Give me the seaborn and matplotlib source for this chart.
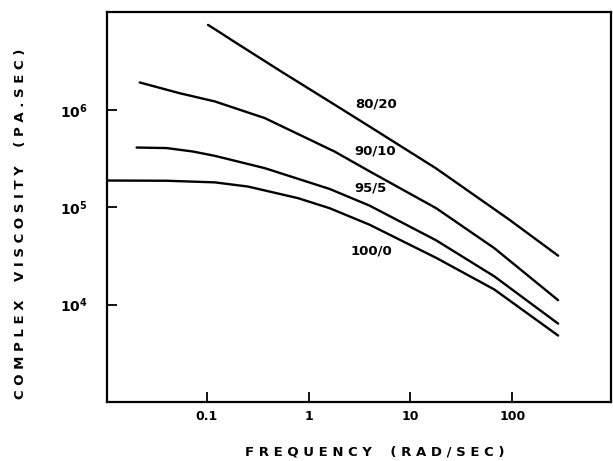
import numpy as np
import pandas as pd
import seaborn as sns
import matplotlib.pyplot as plt

# frequency (rad/sec) and complex viscosity (Pa.sec)
freq_8020 = [0.103, 0.134, 0.175, 0.540, 1.80, 3.96, 17.9, 93.5, 282]
visc_8020 = [7.45e6, 6.26e6, 5.22e6, 2.47e6, 1.13e6, 6.75e5, 2.50e5, 7.45e4, 3.18e4]

freq_9010 = [0.0220, 0.0544, 0.120, 0.371, 1.80, 3.96, 17.9, 66.6, 282]
visc_9010 = [1.91e6, 1.48e6, 1.22e6, 8.23e5, 3.73e5, 2.34e5, 9.77e4, 3.80e4, 1.11e4]

freq_955 = [0.0205, 0.0403, 0.0734, 0.120, 0.371, 1.61, 3.96, 17.9, 66.6, 282]
visc_955 = [4.10e5, 4.05e5, 3.73e5, 3.37e5, 2.52e5, 1.54e5, 1.04e5, 4.57e4, 1.95e4, 6.38e3]

freq_1000 = [0.01055, 0.0403, 0.120, 0.254, 0.785, 1.61, 3.96, 17.9, 66.6, 282]
visc_1000 = [1.88e5, 1.87e5, 1.80e5, 1.63e5, 1.24e5, 9.77e4, 6.62e4, 3.02e4, 1.43e4, 4.81e3]

blends = ['80/20', '90/10', '95/5', '100/0']
label_x = [4.64, 4.55, 4.06, 4.15]
label_y = [1.15e6, 3.75e5, 1.58e5, 3.58e4]

frames = []
for name, f, v in zip(blends,
                      [freq_8020, freq_9010, freq_955, freq_1000],
                      [visc_8020, visc_9010, visc_955, visc_1000]):
    frames.append(pd.DataFrame({'freq': f, 'visc': v, 'blend': name}))
df = pd.concat(frames, ignore_index=True)

sns.set_style('ticks')
plt.rcParams['text.color'] = 'black'
plt.rcParams['axes.labelcolor'] = 'black'
plt.rcParams['xtick.color'] = 'black'
plt.rcParams['ytick.color'] = 'black'

fig = plt.figure(figsize=(6.13, 4.61), dpi=100)
ax = fig.add_axes([0.1746, 0.128, 0.822, 0.845])

sns.lineplot(data=df, x='freq', y='visc', hue='blend', sort=False,
             palette=['black'] * 4, linewidth=1.7, legend=False, ax=ax)

ax.set_xscale('log')
ax.set_yscale('log')
ax.set_xlim(0.0105, 930)
ax.set_ylim(1e3, 1e7)

for name, lx, ly in zip(blends, label_x, label_y):
    ax.text(lx, ly, name, ha='center', va='center', fontsize=9.5,
            fontweight='bold', family='Liberation Sans Narrow', color='black')

ax.set_xticks([0.1, 1, 10, 100])
ax.set_xticklabels(['0.1', '1', '10', '100'], fontweight='bold', fontsize=9)
ax.set_yticks([1e4, 1e5, 1e6])
ax.set_yticklabels([r'$\mathbf{10^4}$', r'$\mathbf{10^5}$', r'$\mathbf{10^6}$'], fontsize=10)
ax.minorticks_off()
ax.tick_params(direction='in', length=7, width=1.3, colors='black')
ax.tick_params(axis='y', pad=14)
ax.tick_params(axis='x', pad=6)

for s in ax.spines.values():
    s.set_linewidth(1.6)
    s.set_color('black')

ax.set_xlabel('F R E Q U E N C Y    ( R A D / S E C )', fontweight='bold', fontsize=9.5)
ax.xaxis.set_label_coords(0.532, -0.128)
ax.xaxis.label.set_va('center')
ax.set_ylabel('C O M P L E X    V I S C O S I T Y    ( P A . S E C )', fontweight='bold',
              fontsize=9.5)
ax.yaxis.set_label_coords(-0.171, 0.458)
ax.yaxis.label.set_va('center')

plt.savefig('out.png', dpi=100)
plt.close()
